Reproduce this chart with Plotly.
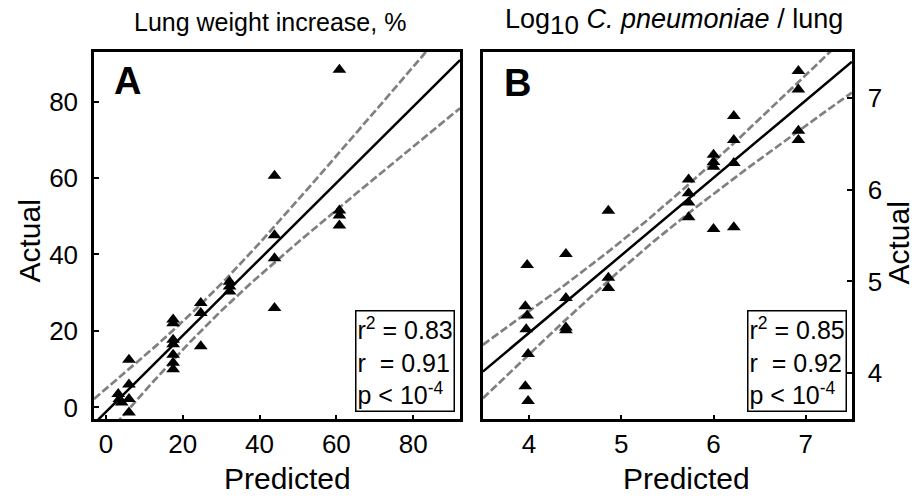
import numpy as np
import plotly.graph_objects as go

# ---------------- data ----------------
# Panel A: Lung weight increase, %
pred_A = [3.2, 3.5, 4.1, 6.0, 6.0, 6.0, 6.0,
          17.5, 17.5, 17.5, 17.5, 17.5, 17.5, 17.5,
          24.7, 24.7, 24.7, 32.2, 32.2, 32.2,
          43.9, 43.9, 43.9, 43.9, 60.8, 60.8, 60.8, 60.8]
act_A = [3.5, 2.2, 1.3, 12.5, 6.0, 2.2, -1.3,
         23.0, 22.0, 17.7, 16.5, 13.8, 11.7, 10.0,
         27.3, 24.7, 16.0, 32.9, 31.6, 30.3,
         60.6, 45.0, 39.0, 26.0, 88.3, 51.5, 50.2, 47.6]

# Panel B: Log10 C. pneumoniae / lung
pred_B = [6.92, 6.92, 6.92, 6.92, 6.22, 6.22, 6.22, 6.22,
          6.00, 6.00, 6.00, 6.00, 5.73, 5.73, 5.73, 5.73,
          4.86, 4.86, 4.86, 4.40, 4.40, 4.40, 4.40,
          3.98, 3.96, 3.98, 3.97, 3.99, 3.96, 3.99]
act_B = [7.29, 7.09, 6.64, 6.54, 6.80, 6.54, 6.29, 5.59,
         6.38, 6.30, 6.25, 5.57, 6.11, 5.96, 5.86, 5.70,
         5.77, 5.04, 4.93, 5.30, 4.82, 4.50, 4.47,
         5.18, 4.73, 4.63, 4.48, 4.21, 3.86, 3.70]

ticks_A = [0, 20, 40, 60, 80]
ticks_B = [4, 5, 6, 7]
range_Ax = [-3.1, 92.2]
range_Ay = [-3.1, 93.0]
range_B = [3.5, 7.5]

stats_A = "r<sup>2</sup> = 0.83<br>r&nbsp; = 0.91<br>p &lt; 10<sup>-4</sup>"
stats_B = "r<sup>2</sup> = 0.85<br>r&nbsp; = 0.92<br>p &lt; 10<sup>-4</sup>"
T_CRIT = 2.05  # 95% two-sided t value (df ~ 26-28)

FONT = "Arial, Liberation Sans, sans-serif"


def fit_with_band(x, y, xr):
    x = np.asarray(x, float)
    y = np.asarray(y, float)
    n = len(x)
    b, a = np.polyfit(x, y, 1)
    resid = y - (a + b * x)
    s = np.sqrt(np.sum(resid ** 2) / (n - 2))
    xm = x.mean()
    sxx = np.sum((x - xm) ** 2)
    xs = np.linspace(xr[0], xr[1], 200)
    yh = a + b * xs
    hw = T_CRIT * s * np.sqrt(1.0 / n + (xs - xm) ** 2 / sxx)
    return xs, yh, yh + hw, yh - hw


fig = go.Figure()

for (px_, ay_, xr, xa, ya) in [(pred_A, act_A, range_Ax, "x", "y"),
                                (pred_B, act_B, range_B, "x2", "y2")]:
    xs, yh, up, lo = fit_with_band(px_, ay_, xr)
    for yy in (up, lo):
        fig.add_trace(go.Scatter(x=xs, y=yy, mode="lines", xaxis=xa, yaxis=ya,
                                 line=dict(color="#808080", width=2.7, dash="8px,3px"),
                                 showlegend=False, hoverinfo="skip"))
    fig.add_trace(go.Scatter(x=xs, y=yh, mode="lines", xaxis=xa, yaxis=ya,
                             line=dict(color="black", width=2.5),
                             showlegend=False, hoverinfo="skip"))
    fig.add_trace(go.Scatter(x=px_, y=ay_, mode="markers", xaxis=xa, yaxis=ya,
                             marker=dict(symbol="triangle-up", size=12, color="black"),
                             cliponaxis=True, showlegend=False))

axis_common = dict(showline=True, linecolor="black", linewidth=2.5, mirror=True,
                   ticks="inside", ticklen=5, tickwidth=2, tickcolor="black",
                   showgrid=False, zeroline=False,
                   tickfont=dict(family=FONT, size=26, color="black"))

dom_y = [0.158, 0.896]
fig.update_layout(
    width=918, height=501,
    margin=dict(l=0, r=0, t=0, b=0),
    paper_bgcolor="white", plot_bgcolor="white",
    font=dict(family=FONT, color="black"),
    xaxis=dict(domain=[0.1024, 0.5011], range=range_Ax, tickvals=ticks_A,
               anchor="y", ticklabelstandoff=0, **axis_common),
    yaxis=dict(domain=dom_y, range=range_Ay, tickvals=ticks_A,
               anchor="x", ticklabelstandoff=8, **axis_common),
    xaxis2=dict(domain=[0.526, 0.928], range=range_B, tickvals=ticks_B,
                anchor="y2", ticklabelstandoff=0, **axis_common),
    yaxis2=dict(domain=dom_y, range=range_B, tickvals=ticks_B, side="right",
                anchor="x2", ticklabelstandoff=8, **axis_common),
)

ann = []
def paper_ann(text, x, y, size, **kw):
    d = dict(text=text, x=x, y=y, xref="paper", yref="paper", showarrow=False,
             xanchor="center", yanchor="middle",
             font=dict(family=FONT, size=size, color="black"))
    d.update(kw)
    ann.append(d)

paper_ann("Lung weight increase, %", 270 / 918, 1 - 22 / 501, 25)
paper_ann("Log<sub><span style='font-size:26px'>10</span></sub> <i>C. pneumoniae</i> / lung",
          674 / 918, 1 - 22 / 501, 27)
paper_ann("Predicted", 287 / 918, 1 - 481 / 501, 30)
paper_ann("Predicted", 686 / 918, 1 - 481 / 501, 30)
paper_ann("Actual", 30 / 918, 1 - 243 / 501, 30, textangle=-90)
paper_ann("Actual", 899 / 918, 1 - 245 / 501, 30, textangle=-90)
paper_ann("<b>A</b>", 127 / 918, 1 - 81 / 501, 38)
paper_ann("<b>B</b>", 517 / 918, 1 - 83 / 501, 38)

for txt, xr_, yr_ in [(stats_A, "x domain", "y domain"), (stats_B, "x2 domain", "y2 domain")]:
    ann.append(dict(text=txt, x=0.986, y=0.019, xref=xr_, yref=yr_, showarrow=False,
                    xanchor="right", yanchor="bottom", align="left",
                    bordercolor="black", borderwidth=1.5, borderpad=1, bgcolor="white",
                    font=dict(family=FONT, size=25, color="black")))

fig.update_layout(annotations=ann)
fig.write_html("out.html")
